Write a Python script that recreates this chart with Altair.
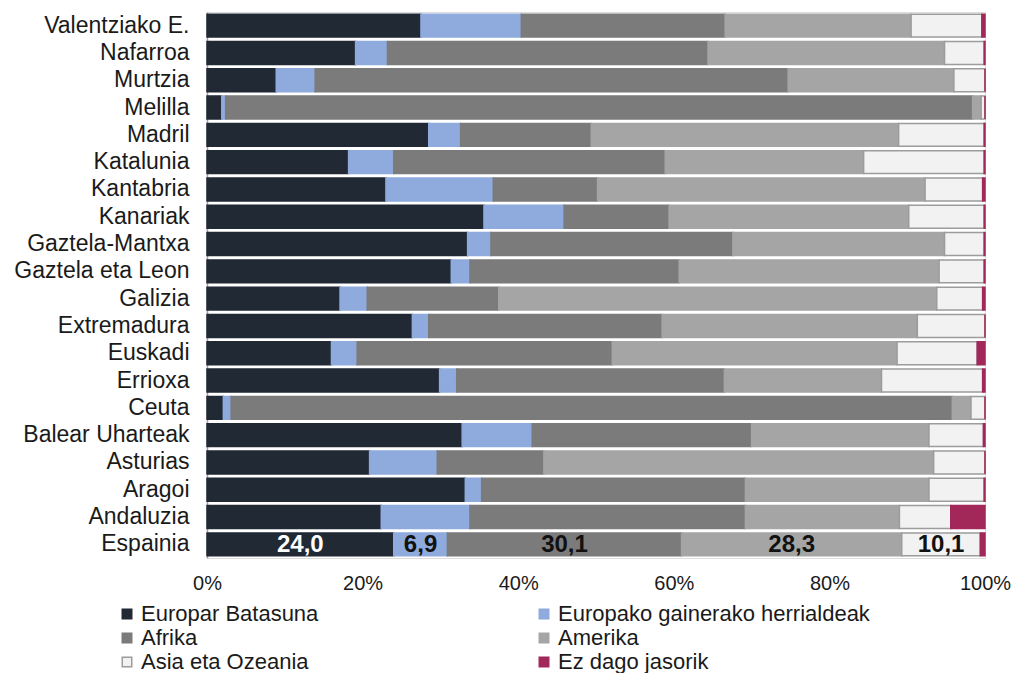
import altair as alt
import pandas as pd

regions = ["Valentziako E.", "Nafarroa", "Murtzia", "Melilla", "Madril", "Katalunia",
           "Kantabria", "Kanariak", "Gaztela-Mantxa", "Gaztela eta Leon", "Galizia",
           "Extremadura", "Euskadi", "Errioxa", "Ceuta", "Balear Uharteak", "Asturias",
           "Aragoi", "Andaluzia", "Espainia"]

series = ["Europar Batasuna", "Europako gainerako herrialdeak", "Afrika", "Amerika",
          "Asia eta Ozeania", "Ez dago jasorik"]

europar_batasuna = [27.5, 19.1, 8.9, 1.9, 28.5, 18.2, 23.0, 35.6, 33.5, 31.4,
                    17.1, 26.4, 16.0, 29.9, 2.1, 32.8, 20.9, 33.2, 22.4, 24.0]
europa_beste = [12.9, 4.1, 5.0, 0.5, 4.1, 5.8, 13.8, 10.3, 3.0, 2.4,
                3.5, 2.1, 3.3, 2.2, 1.0, 9.0, 8.7, 2.1, 11.4, 6.9]
afrika = [26.2, 41.2, 60.8, 96.0, 16.8, 34.9, 13.4, 13.5, 31.1, 26.9,
          16.9, 30.0, 32.8, 34.4, 92.7, 28.2, 13.7, 33.9, 35.4, 30.1]
amerika = [23.9, 30.4, 21.3, 1.1, 39.5, 25.5, 42.1, 30.8, 27.2, 33.4,
           56.3, 32.8, 36.6, 20.2, 2.4, 22.8, 50.1, 23.6, 19.8, 28.3]
asia_ozeania = [9.1, 5.1, 4.0, 0.5, 11.0, 15.5, 7.4, 9.7, 5.1, 5.8,
                5.9, 8.7, 10.3, 13.0, 1.8, 7.0, 6.6, 7.1, 6.6, 10.1]
ez_dago = [0.4, 0.1, 0.0, 0.0, 0.1, 0.1, 0.3, 0.1, 0.1, 0.1,
           0.3, 0.0, 1.0, 0.3, 0.0, 0.2, 0.0, 0.1, 4.4, 0.6]

espainia_labels = ["24,0", "6,9", "30,1", "28,3", "10,1", ""]

fill_colors = ["#212934", "#8FAADC", "#7B7B7B", "#A5A5A5", "#F2F2F2", "#A2285A"]
stroke_colors = ["#212934", "#8FAADC", "#7B7B7B", "#A5A5A5", "#9C9C9C", "#A2285A"]

cols = [europar_batasuna, europa_beste, afrika, amerika, asia_ozeania, ez_dago]
rows = []
for si, (s, vals) in enumerate(zip(series, cols)):
    for ri, r in enumerate(regions):
        lab = espainia_labels[si] if r == "Espainia" else ""
        rows.append({"region": r, "series": s, "order": si, "value": vals[ri], "label": lab})
df = pd.DataFrame(rows)

FONT = "Liberation Sans"

base = alt.Chart(df).transform_stack(
    stack="value", groupby=["region"], as_=["x0", "x1"],
    sort=[alt.SortField("order", order="ascending")], offset="normalize"
)

yenc = alt.Y("region:N", sort=regions,
             scale=alt.Scale(paddingInner=0.16, paddingOuter=0.08),
             axis=alt.Axis(title=None, ticks=False, labelPadding=18, labelFontSize=23,
                           labelFont=FONT, labelColor="#1a1a1a", domainColor="#A0A0A0",
                           domainWidth=1.5, minExtent=199, maxExtent=199, labelLimit=300))

leg = dict(title=None, orient="none", legendX=-91, legendY=591, direction="horizontal",
           columns=2, columnPadding=214, symbolType="square", symbolSize=90,
           labelFontSize=22, labelFont=FONT, labelColor="#1a1a1a", rowPadding=2,
           labelOffset=3, symbolStrokeWidth=1.5, labelLimit=500)

bars = base.mark_bar(strokeWidth=1.5).encode(
    y=yenc,
    x=alt.X("x0:Q", scale=alt.Scale(domain=[0, 1], nice=False),
            axis=alt.Axis(title=None, format=".0%", values=[0, 0.2, 0.4, 0.6, 0.8, 1.0],
                          ticks=False, domain=False, grid=False, labelPadding=15,
                          labelFlush=False,
                          labelFontSize=20, labelFont=FONT, labelColor="#1a1a1a")),
    x2="x1:Q",
    color=alt.Color("series:N", sort=series,
                    scale=alt.Scale(domain=series, range=fill_colors),
                    legend=alt.Legend(**leg)),
    stroke=alt.Stroke("series:N", sort=series,
                      scale=alt.Scale(domain=series, range=stroke_colors),
                      legend=alt.Legend(**leg)),
    order=alt.Order("order:Q"),
)

texts = base.transform_filter(
    alt.datum.label != ""
).transform_calculate(
    xm="(datum.x0 + datum.x1) / 2"
).mark_text(font=FONT, fontSize=24, fontWeight="bold", baseline="middle", align="center", dy=1).encode(
    y=alt.Y("region:N", sort=regions),
    x=alt.X("xm:Q"),
    text="label:N",
    color=alt.condition(alt.datum.series == "Europar Batasuna", alt.value("white"), alt.value("#111111")),
)

chart = alt.layer(bars, texts).properties(
    width=778, height=546,
    padding={"left": 0, "top": 4, "right": 0, "bottom": 0},
).configure_view(stroke=None).configure(background="white")

chart.save("out.html", embed_options={"renderer": "svg", "actions": False})
